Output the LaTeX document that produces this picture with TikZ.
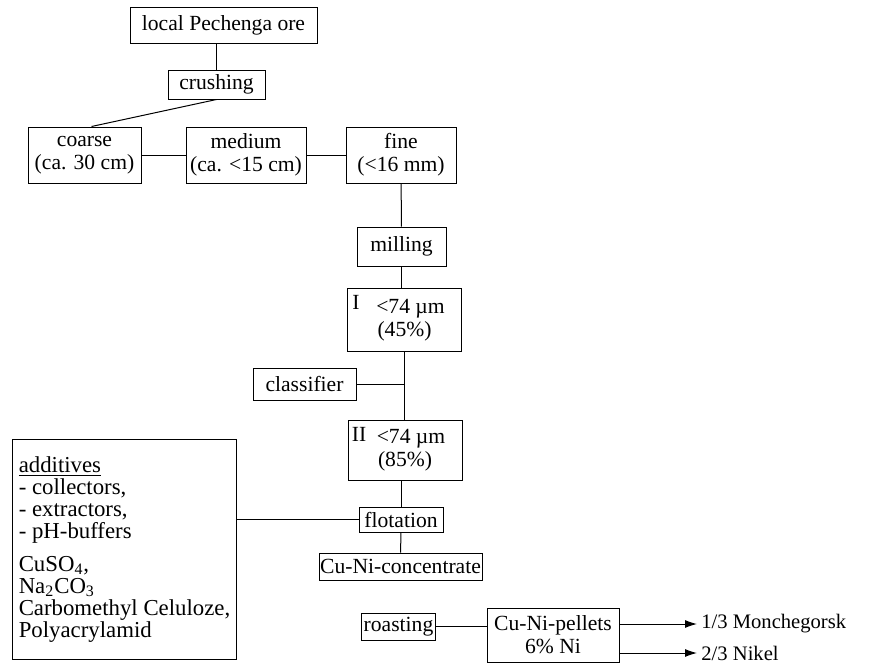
\documentclass[tikz,border=0pt]{standalone}
\usepackage{fontspec}
\setmainfont{Liberation Serif}
\usetikzlibrary{arrows.meta}

\begin{document}
\begin{tikzpicture}[x=0.5pt, y=-0.5pt,
  font=\fontsize{10.8}{11.5}\selectfont,
  box/.style={draw, line width=0.5pt, align=center, inner sep=1pt},
  link/.style={line width=0.5pt},
  flow/.style={line width=0.5pt, -{Latex[length=6pt,width=4pt]}},
  dest/.style={anchor=west, inner sep=2pt, font=\fontsize{10.3}{11}\selectfont}]
\useasboundingbox (0,0) rectangle (884,669);
\node[box] (ore) [minimum width=93.5pt, minimum height=18pt] at (223.5,25) {local Pechenga ore};
\node[box] (crush) [minimum width=48.5pt, minimum height=14.5pt] at (216.5,84.5) {crushing};
\node[box] (coarse) [minimum width=56.5pt, minimum height=28pt] at (84.5,155) {coarse\\(ca. 30 cm)};
\node[box] (medium) [minimum width=60pt, minimum height=28pt] at (246,155) {medium\\(ca. <15 cm)};
\node[box] (fine) [minimum width=55pt, minimum height=28pt] at (401,155) {fine\\(<16 mm)};
\node[box] (mill) [minimum width=44.5pt, minimum height=19.5pt] at (401.5,246.5) {milling};
\node[box] (fracI) [minimum width=57pt, minimum height=31.5pt] at (404.5,320) {\hspace*{6pt}<74 µm\\(45\%)};
\node (labI) [anchor=north west, inner sep=1pt] at ([xshift=1.5pt,yshift=-2.5pt]fracI.north west) {I};
\node[box] (classif) [minimum width=51.5pt, minimum height=16pt] at (304.5,384) {classifier};
\node[box] (fracII) [minimum width=57pt, minimum height=30pt] at (405,450) {\hspace*{6pt}<74 µm\\(85\%)};
\node (labII) [anchor=north west, inner sep=1pt] at ([xshift=1pt,yshift=-2.5pt]fracII.north west) {II};
\node[box] (flot) [minimum width=42pt, minimum height=12.5pt] at (401,519.5) {flotation};
\node[box] (conc) [minimum width=81.5pt, minimum height=13.5pt, inner xsep=0.5pt] at (400.5,566.5) {Cu-Ni-concentrate};
\node[box] (roast) [minimum width=36.5pt, minimum height=13.5pt] at (398.5,626.5) {roasting};
\node[box] (pellets) [minimum width=66pt, minimum height=27pt] at (553,635) {Cu-Ni-pellets\\6\% Ni};
\node[box] (add) [anchor=north west, align=left, minimum width=112pt, minimum height=110pt,
  inner xsep=2pt, inner ysep=5pt, font=\fontsize{11.4}{11}\selectfont] at (12,439)
  {\underline{additives}\\- collectors,\\- extractors,\\- pH-buffers\\[5.5pt]CuSO\textsubscript{4},\\Na\textsubscript{2}CO\textsubscript{3}\\Carbomethyl Celuloze,\\Polyacrylamid};
\node[dest] (mon) at (697,624) {1/3 Monchegorsk};
\node[dest] (nik) at (697,653) {2/3 Nikel};
\draw[link] (crush.north) -- (crush.north |- ore.south);
\draw[link] (crush.south) -- ([xshift=3.5pt]coarse.north);
\draw[link] (coarse) -- (medium);
\draw[link] (medium) -- (fine);
\draw[link] (fine) -- (mill);
\draw[link] (mill.south) -- (mill.south |- fracI.north);
\draw[link] (fracI.south) -- (fracI.south |- fracII.north);
\draw[link] (classif.east) -- (classif.east -| fracI.south);
\draw[link] (flot.north |- fracII.south) -- (flot.north);
\draw[link] (add.east |- flot.west) -- (flot.west);
\draw[link] (flot) -- (conc);
\draw[link] (conc.south) -- (conc.south -| roast.north);
\draw[link] (roast.east) -- (roast.east -| pellets.west);
\draw[flow] (pellets.east |- mon.west) -- (mon.west);
\draw[flow] (pellets.east |- nik.west) -- (nik.west);
\end{tikzpicture}
\end{document}
